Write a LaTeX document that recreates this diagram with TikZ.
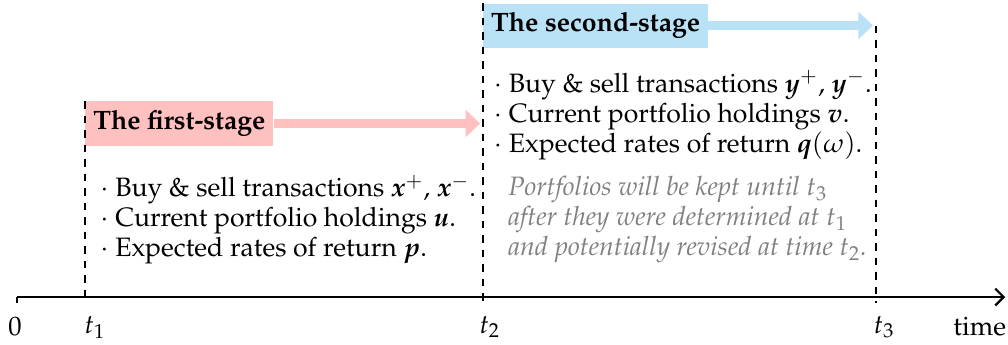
\documentclass[tikz,border=0pt]{standalone}
\usepackage[T1]{fontenc}
\usepackage{amsmath,amssymb}
\usepackage{mathpazo}
\usepackage{tikz}
\usetikzlibrary{arrows.meta,positioning,calc}
\usepackage{xcolor}
\definecolor{stagepink}{RGB}{255,192,192}
\definecolor{stageblue}{RGB}{186,226,246}
\newcommand{\picfont}{\fontsize{11}{12.4}\selectfont}

\begin{document}
\begin{tikzpicture}[
    font=\picfont,
    stage/.style={anchor=north west, font=\picfont\bfseries, minimum height=0.64cm, inner sep=0pt},
    sar/.style={-{Triangle[width=11pt,length=6pt]}, line width=4pt, shorten >=1.2pt},
    guide/.style={dash pattern=on 3.2pt off 2.8pt, line width=0.7pt},
    axis/.style={-{Straight Barb[length=3.5pt,width=7pt]}, line width=0.9pt},
    list/.style={anchor=west, align=left, inner sep=0pt, font=\picfont},
    note/.style={list, text=black!50, font=\picfont\itshape},
  ]
    \useasboundingbox (0,0) rectangle (14.65,5.0);

    \coordinate (o) at (0.247,0.683);
    \coordinate (obot) at (0.247,0.60);
    \coordinate (t1) at (1.235,0.683);
    \coordinate (t2) at (7.02,0.683);
    \coordinate (t3) at (12.73,0.683);
    \coordinate (tend) at (14.61,0.683);

    \node[stage, fill=stagepink, minimum width=2.73cm] (first) at (1.235,3.532) {The first-stage};
    \node[stage, fill=stageblue, minimum width=3.26cm] (second) at (7.02,4.956) {The second-stage};

    \draw[sar, stagepink] (first.east) -- (first.east -| t2);
    \draw[sar, stageblue] (second.east) -- (second.east -| t3);

    \draw[guide] (first.north west) -- (t1 |- obot);
    \draw[guide] (second.north west) -- (t2 |- obot);
    \draw[guide] (second.east -| t3) -- (t3 |- obot);

    \draw[axis] (o) -- (tend);
    \draw[line width=0.7pt] (o) -- (obot);

    \node (l0) at (0.22,0.247) {$0$};
    \node (l1) at (1.38,0.247) {$t_1$};
    \node (l2) at (7.12,0.247) {$t_2$};
    \node (l3) at (12.85,0.247) {$t_3$};
    \node (ltime) at (14.24,0.247) {time};

    \node[list] (firstlist) at (1.45,1.81)
      {$\cdot$ Buy \& sell transactions $\boldsymbol{x}^+$, $\boldsymbol{x}^-$.\\
       $\cdot$ Current portfolio holdings $\boldsymbol{u}$.\\
       $\cdot$ Expected rates of return $\boldsymbol{p}$.};
    \node[list] (secondlist) at (7.17,3.33)
      {$\cdot$ Buy \& sell transactions $\boldsymbol{y}^+$, $\boldsymbol{y}^-$.\\
       $\cdot$ Current portfolio holdings $\boldsymbol{v}$.\\
       $\cdot$ Expected rates of return $\boldsymbol{q}(\omega)$.};
    \node[note] (keep) at (7.38,1.81)
      {Portfolios will be kept until $t_3$\\
       after they were determined at $t_1$\\
       and potentially revised at time $t_2$.};
\end{tikzpicture}
\end{document}
